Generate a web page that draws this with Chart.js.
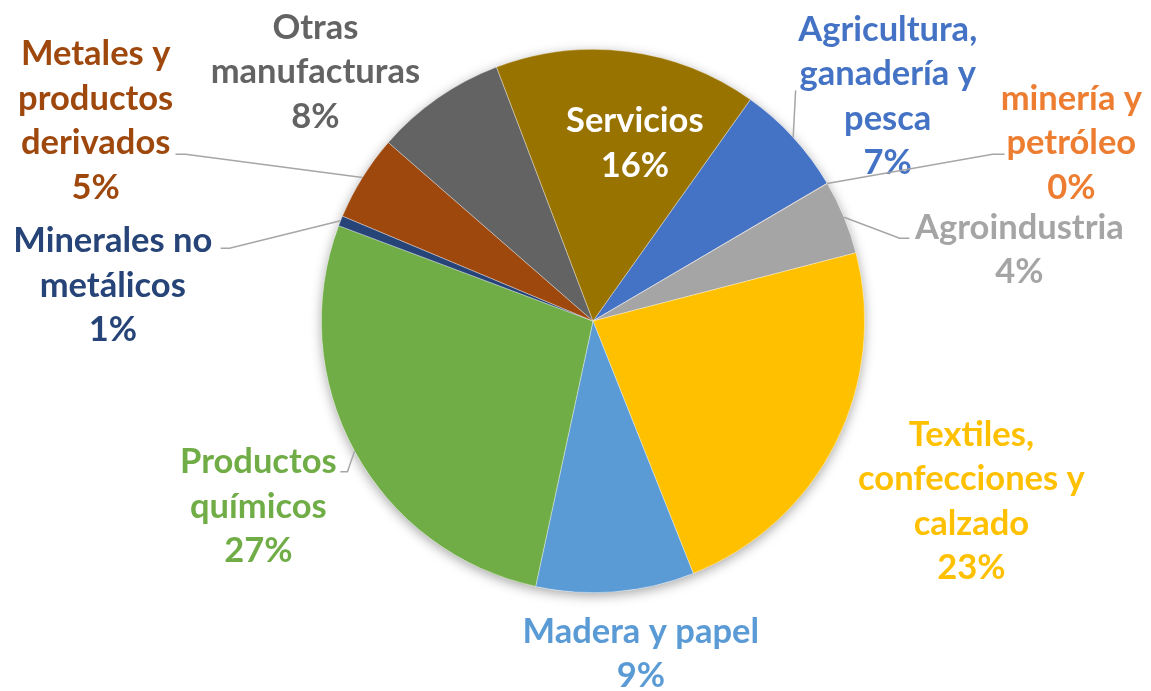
<!DOCTYPE html>
<html lang="es">
<head>
<meta charset="utf-8">
<title>Participación por sector</title>
<script src="https://cdn.jsdelivr.net/npm/chart.js@4.4.1/dist/chart.umd.min.js"></script>
<style>
  html, body { margin: 0; padding: 0; background: #fff; }
  .wrap { position: relative; width: 1151px; height: 691px; }
</style>
</head>
<body>
<div class="wrap"><canvas id="pieChart"></canvas></div>
<script>
// ---- data ----
const sectors = [
  ['Agricultura,', 'ganadería y', 'pesca'],
  ['minería y', 'petróleo'],
  ['Agroindustria'],
  ['Textiles,', 'confecciones y', 'calzado'],
  ['Madera y papel'],
  ['Productos', 'químicos'],
  ['Minerales no', 'metálicos'],
  ['Metales y', 'productos', 'derivados'],
  ['Otras', 'manufacturas'],
  ['Servicios']
];
const shares = [6.7, 0.02, 4.4, 23.0, 9.4, 27.3, 0.6, 5.1, 7.8, 15.6];
const sliceColors = ['#4472C4', '#ED7D31', '#A5A5A5', '#FFC000', '#5B9BD5',
                     '#70AD47', '#264478', '#9E480E', '#636363', '#997300'];
const labelColors = ['#4472C4', '#ED7D31', '#A5A5A5', '#FFC000', '#5B9BD5',
                     '#70AD47', '#264478', '#9E480E', '#636363', '#FFFFFF'];

// ---- label layout (in units of the pie radius, relative to its centre) ----
const labelAt = [
  [1.085, -0.827], [1.761, -0.654], [1.570, -0.261], [1.393, 0.665], [0.176, 1.226],
  [-1.232, 0.684], [-1.768, -0.129], [-1.831, -0.737], [-1.022, -0.915], [0.154, -0.653]
];
const leaders = [
  [[0.746, -0.849]],
  [[1.471, -0.614], [1.515, -0.614]],
  [[1.129, -0.305], [1.165, -0.305]],
  null, null,
  [[-0.904, 0.555], [-0.930, 0.555]],
  [[-1.338, -0.268], [-1.371, -0.268]],
  [[-1.500, -0.614], [-1.537, -0.614]],
  null, null
];

const FONT = 'bold 34.5px Lato, "Open Sans", sans-serif';
const LINE_H = 44.5;

const total = shares.reduce((a, b) => a + b, 0);

// soft shadow behind the pie
const pieShadow = {
  id: 'pieShadow',
  beforeDatasetsDraw(chart) {
    const arc = chart.getDatasetMeta(0).data[0];
    if (!arc) return;
    const { x, y, outerRadius } = arc.getProps(['x', 'y', 'outerRadius'], true);
    const ctx = chart.ctx;
    ctx.save();
    ctx.shadowColor = 'rgba(0,0,0,0.35)';
    ctx.shadowBlur = 12;
    ctx.shadowOffsetY = 3;
    ctx.fillStyle = '#ffffff';
    ctx.beginPath();
    ctx.arc(x, y, outerRadius, 0, Math.PI * 2);
    ctx.fill();
    ctx.restore();
  }
};

// data labels + leader lines
const pieLabels = {
  id: 'pieLabels',
  afterDatasetsDraw(chart) {
    const ctx = chart.ctx;
    const arcs = chart.getDatasetMeta(0).data;
    ctx.save();
    arcs.forEach((arc, i) => {
      const p = arc.getProps(['x', 'y', 'startAngle', 'endAngle', 'outerRadius'], true);
      const r = p.outerRadius;
      const mid = (p.startAngle + p.endAngle) / 2;

      if (leaders[i]) {
        ctx.strokeStyle = '#A6A6A6';
        ctx.lineWidth = 1.5;
        ctx.beginPath();
        ctx.moveTo(p.x + Math.cos(mid) * r, p.y + Math.sin(mid) * r);
        leaders[i].forEach(pt => ctx.lineTo(p.x + pt[0] * r, p.y + pt[1] * r));
        ctx.stroke();
      }

      const lines = sectors[i].concat([Math.round(shares[i] / total * 100) + '%']);
      const cx = p.x + labelAt[i][0] * r;
      const cy = p.y + labelAt[i][1] * r;
      const top = cy - (lines.length - 1) * LINE_H / 2;
      ctx.font = FONT;
      ctx.fillStyle = labelColors[i];
      ctx.textAlign = 'center';
      ctx.textBaseline = 'alphabetic';
      lines.forEach((t, k) => ctx.fillText(t, cx, top + k * LINE_H + 11));
    });
    ctx.restore();
  }
};

new Chart(document.getElementById('pieChart'), {
  type: 'pie',
  data: {
    labels: sectors.map(s => s.join(' ')),
    datasets: [{
      data: shares,
      backgroundColor: sliceColors,
      borderColor: 'rgba(255,255,255,0.45)',
      borderWidth: 0.75
    }]
  },
  options: {
    responsive: true,
    maintainAspectRatio: false,
    animation: false,
    events: [],
    rotation: 35.4,
    layout: { padding: { top: 49, bottom: 98, left: 35, right: 0 } },
    plugins: {
      legend: { display: false },
      tooltip: { enabled: false }
    }
  },
  plugins: [pieShadow, pieLabels]
});
</script>
</body>
</html>
